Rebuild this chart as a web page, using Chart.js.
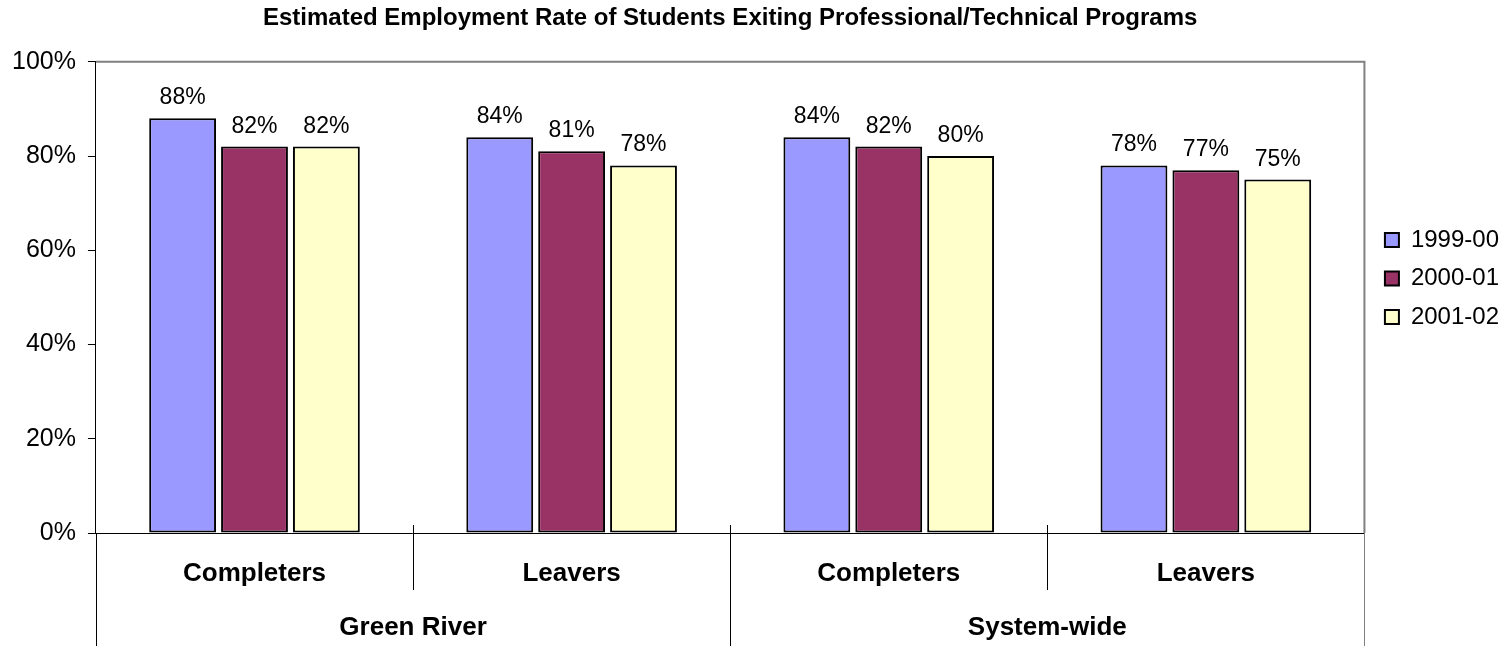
<!DOCTYPE html>
<html>
<head>
<meta charset="utf-8">
<script src="https://cdn.jsdelivr.net/npm/chart.js@4/dist/chart.umd.min.js"></script>
<style>
  html, body { margin: 0; padding: 0; background: #fff; }
  #wrap { width: 1509px; height: 646px; }
</style>
</head>
<body>
<div id="wrap"><canvas id="chartEmployment"></canvas></div>
<script>
const categories = ['Completers', 'Leavers', 'Completers', 'Leavers'];
const groups = ['Green River', 'System-wide'];
const years = ['1999-00', '2000-01', '2001-02'];
const rate1999 = [88, 84, 84, 78];
const rate2000 = [82, 81, 82, 77];
const rate2001 = [82, 78, 80, 75];
const yTicks = [0, 20, 40, 60, 80, 100];

const FONT = "'Liberation Sans', Arial, sans-serif";

// Colors (Excel default palette)
const c = {
    blue: '#9999FF',
    plum: '#993366',
    cream: '#FFFFCC',
    frame: '#808080'
};

// gray frame on top/right + separators under the category axis
const framePlugin = {
    id: 'frame',
    beforeDatasetsDraw(chart) {
        const { ctx, chartArea: a } = chart;
        ctx.save();
        ctx.strokeStyle = c.frame;
        ctx.lineWidth = 2;
        ctx.beginPath();
        ctx.moveTo(a.left, a.top);
        ctx.lineTo(a.right, a.top);
        ctx.lineTo(a.right, a.bottom);
        ctx.stroke();
        ctx.restore();
    },
    afterDraw(chart) {
        const { ctx, chartArea: a } = chart;
        const x = chart.scales.x;
        const H = chart.height;
        const mid = i => (x.getPixelForValue(i) + x.getPixelForValue(i + 1)) / 2;
        ctx.save();
        ctx.strokeStyle = '#000';
        ctx.lineWidth = 1;
        const line = (px, y0, y1) => {
            ctx.beginPath();
            ctx.moveTo(Math.round(px) + 0.5, y0);
            ctx.lineTo(Math.round(px) + 0.5, y1);
            ctx.stroke();
        };
        line(a.left, a.bottom, H);
        line(mid(0), a.bottom - 8, a.bottom + 57);
        line(mid(1), a.bottom - 8, H);
        line(mid(2), a.bottom - 8, a.bottom + 57);
        ctx.strokeStyle = c.frame;
        line(a.right, a.bottom, H);
        ctx.restore();
    }
};

// percentage labels above bars
const valueLabels = {
    id: 'valueLabels',
    afterDatasetsDraw(chart) {
        const { ctx } = chart;
        ctx.save();
        ctx.font = '23px ' + FONT;
        ctx.fillStyle = '#000';
        ctx.textAlign = 'center';
        ctx.textBaseline = 'alphabetic';
        chart.data.datasets.forEach((ds, di) => {
            chart.getDatasetMeta(di).data.forEach((bar, i) => {
                ctx.fillText(ds.data[i] + '%', bar.x, bar.y - 14);
            });
        });
        ctx.restore();
    }
};

function barSet(label, data, color) {
    return {
        label: label,
        data: data,
        backgroundColor: color,
        borderColor: '#000',
        borderWidth: 2,
        borderSkipped: false,
        categoryPercentage: 0.68,
        barPercentage: 0.93
    };
}

new Chart(document.getElementById('chartEmployment'), {
    type: 'bar',
    data: {
        labels: categories,
        datasets: [
            barSet(years[0], rate1999, c.blue),
            barSet(years[1], rate2000, c.plum),
            barSet(years[2], rate2001, c.cream)
        ]
    },
    options: {
        responsive: true,
        maintainAspectRatio: false,
        animation: false,
        layout: { padding: { left: 0, right: 0, bottom: 0 } },
        plugins: {
            title: {
                display: true,
                text: 'Estimated Employment Rate of Students Exiting Professional/Technical Programs',
                fullSize: false,
                color: '#000',
                font: { size: 24, weight: 'bold', family: FONT },
                padding: { top: 4, bottom: 29 }
            },
            legend: {
                position: 'right',
                align: 'start',
                fullSize: false,
                title: {
                    display: true,
                    text: ' ',
                    font: { size: 24, family: FONT },
                    padding: { top: 0, bottom: 123 }
                },
                labels: {
                    color: '#000',
                    boxWidth: 14,
                    boxHeight: 14,
                    padding: 14.5,
                    font: { size: 24, family: FONT }
                }
            },
            tooltip: { enabled: false }
        },
        scales: {
            y: {
                min: 0,
                max: 100,
                afterBuildTicks: s => { s.ticks = yTicks.map(v => ({ value: v })); },
                grid: { drawOnChartArea: false, tickLength: 8, color: '#000', lineWidth: 1 },
                border: { color: '#000', width: 1 },
                ticks: {
                    padding: 12,
                    color: '#000',
                    font: { size: 25, family: FONT },
                    callback: v => v + '%'
                }
            },
            yRight: {
                position: 'right',
                display: true,
                grid: { display: false, drawTicks: false },
                border: { display: false },
                ticks: { display: false },
                afterFit: s => { s.width = 6; }
            },
            x: {
                weight: 0,
                grid: { display: false, drawTicks: false },
                border: { color: '#000', width: 1 },
                ticks: {
                    padding: 25,
                    color: '#000',
                    maxRotation: 0,
                    font: { size: 26, weight: 'bold', family: FONT }
                },
                afterFit: s => { s.height = 57; }
            },
            x2: {
                type: 'category',
                position: 'bottom',
                weight: 1,
                labels: groups,
                offset: true,
                grid: { display: false, drawTicks: false },
                border: { display: false },
                ticks: {
                    padding: 22,
                    color: '#000',
                    maxRotation: 0,
                    font: { size: 26, weight: 'bold', family: FONT }
                },
                afterFit: s => { s.height = 56; }
            }
        }
    },
    plugins: [framePlugin, valueLabels]
});
</script>
</body>
</html>
